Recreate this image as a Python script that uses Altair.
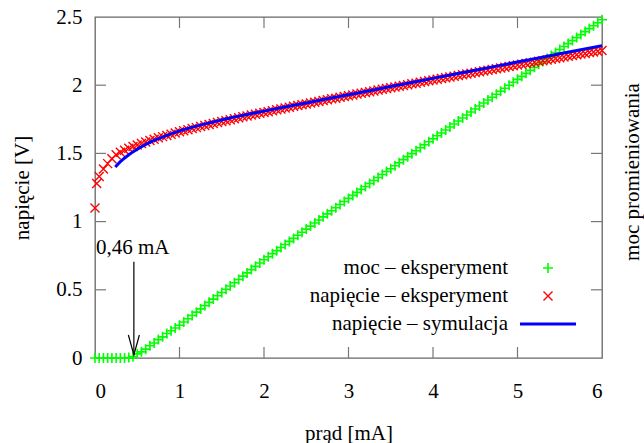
import altair as alt
import pandas as pd

# ---------------- data ----------------
current = [0.0, 0.05, 0.1, 0.15, 0.2, 0.25, 0.3, 0.35, 0.4, 0.45,
           0.5, 0.55, 0.6, 0.65, 0.7, 0.75, 0.8, 0.85, 0.9, 0.95,
           1.0, 1.05, 1.1, 1.15, 1.2, 1.25, 1.3, 1.35, 1.4, 1.45,
           1.5, 1.55, 1.6, 1.65, 1.7, 1.75, 1.8, 1.85, 1.9, 1.95,
           2.0, 2.05, 2.1, 2.15, 2.2, 2.25, 2.3, 2.35, 2.4, 2.45,
           2.5, 2.55, 2.6, 2.65, 2.7, 2.75, 2.8, 2.85, 2.9, 2.95,
           3.0, 3.05, 3.1, 3.15, 3.2, 3.25, 3.3, 3.35, 3.4, 3.45,
           3.5, 3.55, 3.6, 3.65, 3.7, 3.75, 3.8, 3.85, 3.9, 3.95,
           4.0, 4.05, 4.1, 4.15, 4.2, 4.25, 4.3, 4.35, 4.4, 4.45,
           4.5, 4.55, 4.6, 4.65, 4.7, 4.75, 4.8, 4.85, 4.9, 4.95,
           5.0, 5.05, 5.1, 5.15, 5.2, 5.25, 5.3, 5.35, 5.4, 5.45,
           5.5, 5.55, 5.6, 5.65, 5.7, 5.75, 5.8, 5.85, 5.9, 5.95,
           6.0]

moc_eksperyment = [0.0, 0.0, 0.0, 0.0, 0.0, 0.0, 0.0, 0.0, 0.003, 0.01,
                   0.03, 0.045, 0.065, 0.09, 0.11, 0.135, 0.155, 0.18, 0.2, 0.22,
                   0.24, 0.264, 0.288, 0.312, 0.336, 0.36, 0.384, 0.408, 0.432, 0.456,
                   0.48, 0.504, 0.528, 0.552, 0.576, 0.6, 0.624, 0.648, 0.672, 0.696,
                   0.72, 0.742, 0.765, 0.787, 0.81, 0.832, 0.855, 0.877, 0.9, 0.922,
                   0.945, 0.967, 0.99, 1.012, 1.035, 1.057, 1.08, 1.102, 1.125, 1.147,
                   1.17, 1.192, 1.214, 1.236, 1.257, 1.279, 1.301, 1.323, 1.345, 1.367,
                   1.388, 1.41, 1.432, 1.454, 1.476, 1.498, 1.519, 1.541, 1.563, 1.585,
                   1.607, 1.629, 1.65, 1.672, 1.694, 1.716, 1.738, 1.76, 1.781, 1.803,
                   1.825, 1.847, 1.869, 1.891, 1.912, 1.934, 1.956, 1.978, 2.0, 2.022,
                   2.043, 2.065, 2.087, 2.109, 2.131, 2.153, 2.174, 2.196, 2.218, 2.24,
                   2.262, 2.284, 2.305, 2.327, 2.349, 2.371, 2.393, 2.415, 2.436, 2.458,
                   2.48]

current_napiecie = [0.0, 0.02] + current[1:]
napiecie_eksperyment = [1.10, 1.28,
                        1.33, 1.385, 1.425, 1.46, 1.49, 1.508, 1.523, 1.537, 1.55, 1.562,
                        1.573, 1.584, 1.595, 1.604, 1.614, 1.623, 1.632, 1.641, 1.649, 1.658,
                        1.666, 1.674, 1.682, 1.689, 1.697, 1.704, 1.712, 1.719, 1.726, 1.733,
                        1.74, 1.747, 1.754, 1.761, 1.768, 1.774, 1.781, 1.787, 1.794, 1.8,
                        1.806, 1.813, 1.82, 1.826, 1.832, 1.839, 1.845, 1.851, 1.857, 1.863,
                        1.869, 1.875, 1.881, 1.888, 1.894, 1.9, 1.905, 1.911, 1.917, 1.923,
                        1.929, 1.935, 1.941, 1.947, 1.952, 1.958, 1.964, 1.97, 1.975, 1.981,
                        1.987, 1.993, 1.998, 2.004, 2.01, 2.015, 2.021, 2.027, 2.032, 2.038,
                        2.043, 2.049, 2.055, 2.06, 2.066, 2.071, 2.077, 2.082, 2.088, 2.093,
                        2.099, 2.104, 2.11, 2.115, 2.121, 2.126, 2.132, 2.137, 2.143, 2.148,
                        2.153, 2.159, 2.164, 2.169, 2.175, 2.18, 2.185, 2.191, 2.196, 2.201,
                        2.207, 2.212, 2.217, 2.223, 2.228, 2.233, 2.239, 2.244, 2.249, 2.255]

current_symulacja = [0.24, 0.3, 0.4, 0.5, 0.6, 0.7, 0.8, 1.0, 1.2, 1.4, 1.6, 1.8,
                     2.0, 2.5, 3.0, 3.5, 4.0, 4.5, 5.0, 5.5, 6.0]
napiecie_symulacja = [1.40, 1.44, 1.49, 1.53, 1.565, 1.595, 1.62, 1.665, 1.70, 1.73,
                      1.76, 1.785, 1.81, 1.87, 1.93, 1.99, 2.05, 2.11, 2.17, 2.23, 2.29]

series_names = ["moc – eksperyment", "napięcie – eksperyment", "napięcie – symulacja"]
x_tick_labels = [0, 1, 2, 3, 4, 5, 6]
y_tick_labels = [0, 0.5, 1, 1.5, 2, 2.5]
x_inner_ticks = [1, 2, 3, 4, 5]
y_inner_ticks = [0.5, 1, 1.5, 2]
annotation_text = ["0,46 mA"]
annotation_current = [0.46]

# ---------------- styling ----------------
W, H = 507, 341
FONT = "Liberation Serif, Times New Roman, Times, serif"
FS = 21
GREEN, RED, BLUE = "#00ff00", "#ff0000", "#0000ff"
PLUS = "M-1,0L1,0M0,-1L0,1"
CROSS = "M-1,-1L1,1M-1,1L1,-1"
ARROWHEAD = "M-0.55,-2L0,0L0.55,-2"

xs = alt.Scale(domain=[0, 6], nice=False, zero=False)
ys = alt.Scale(domain=[0, 2.5], nice=False, zero=False)

x_axis = alt.Axis(values=x_tick_labels, title="prąd [mA]", ticks=False, domain=False,
                  grid=False, labelPadding=22, labelFont=FONT, labelFontSize=FS,
                  labelColor="black", titleFont=FONT, titleFontSize=FS, titleFontWeight="normal",
                  titleColor="black", titleX=W / 2, titleY=75, titleBaseline="middle",
                  titleAlign="center")
y_axis = alt.Axis(values=y_tick_labels, format="~g", title="napięcie [V]", ticks=False,
                  domain=False, grid=False, labelPadding=13, labelFont=FONT, labelFontSize=FS,
                  labelColor="black", labelBaseline="middle", titleFont=FONT, titleFontSize=FS,
                  titleFontWeight="normal", titleColor="black", titleX=-73, titleY=H / 2,
                  titleAngle=270, titleBaseline="middle", titleAlign="center")


def X(field):
    return alt.X(field, scale=xs, axis=x_axis)


def Y(field):
    return alt.Y(field, scale=ys, axis=y_axis)


green_df = pd.DataFrame({"I": current, "V": moc_eksperyment})
red_df = pd.DataFrame({"I": current_napiecie, "V": napiecie_eksperyment})
blue_df = pd.DataFrame({"I": current_symulacja, "V": napiecie_symulacja})

green = alt.Chart(green_df).mark_point(shape=PLUS, size=100, filled=False, color=GREEN,
                                       strokeWidth=1.6, opacity=1).encode(
    x=X("I:Q"), y=Y("V:Q"))

red = alt.Chart(red_df).mark_point(shape=CROSS, size=81, filled=False, color=RED,
                                   strokeWidth=1.4, opacity=1).encode(
    x=X("I:Q"), y=Y("V:Q"))

blue = alt.Chart(blue_df).mark_line(color=BLUE, strokeWidth=3, interpolate="monotone").encode(
    x=X("I:Q"), y=Y("V:Q"))

# inward ticks on all four sides (gnuplot style)
xt_df = pd.DataFrame({"t": x_inner_ticks})
yt_df = pd.DataFrame({"t": y_inner_ticks})
TICK = dict(color="#777777", strokeWidth=1.2)
ticks_bottom = alt.Chart(xt_df).mark_rule(**TICK).encode(
    x=X("t:Q"), y=alt.value(H), y2=alt.value(H - 11))
ticks_top = alt.Chart(xt_df).mark_rule(**TICK).encode(
    x=X("t:Q"), y=alt.value(0), y2=alt.value(11))
ticks_left = alt.Chart(yt_df).mark_rule(**TICK).encode(
    y=Y("t:Q"), x=alt.value(0), x2=alt.value(11))
ticks_right = alt.Chart(yt_df).mark_rule(**TICK).encode(
    y=Y("t:Q"), x=alt.value(W - 11), x2=alt.value(W))

# annotation: "0,46 mA" with arrow
ann_df = pd.DataFrame({"I": [0.0], "V": [0.806], "label": annotation_text})
ann_text = alt.Chart(ann_df).mark_text(align="left", baseline="middle", font=FONT,
                                       fontSize=FS, color="black", dx=1).encode(
    x=X("I:Q"), y=Y("V:Q"), text="label:N")
arrow_df = pd.DataFrame({"I": annotation_current, "top": [0.706], "tip": [0.022]})
arrow_shaft = alt.Chart(arrow_df).mark_rule(color="black", strokeWidth=1.2).encode(
    x=X("I:Q"), y=Y("top:Q"), y2="tip:Q")
arrow_head = alt.Chart(arrow_df).mark_point(shape=ARROWHEAD, size=400, filled=False,
                                            color="black", strokeWidth=1.2, opacity=1).encode(
    x=X("I:Q"), y=Y("tip:Q"))

# legend (gnuplot style: text right-aligned, sample to the right)
ROWS = [251, 279, 307]
TEXT_X, SYM_X = 413, 453
legend_layers = []
for name, ry in zip(series_names, ROWS):
    legend_layers.append(
        alt.Chart(pd.DataFrame({"label": [name]})).mark_text(
            align="right", baseline="middle", font=FONT, fontSize=FS, color="black").encode(
            x=alt.value(TEXT_X), y=alt.value(ry), text="label:N"))
legend_layers.append(
    alt.Chart(pd.DataFrame({"label": [series_names[0]]})).mark_point(
        shape=PLUS, size=100, filled=False, color=GREEN, strokeWidth=1.6, opacity=1).encode(
        x=alt.value(SYM_X), y=alt.value(ROWS[0])))
legend_layers.append(
    alt.Chart(pd.DataFrame({"label": [series_names[1]]})).mark_point(
        shape=CROSS, size=81, filled=False, color=RED, strokeWidth=1.4, opacity=1).encode(
        x=alt.value(SYM_X), y=alt.value(ROWS[1])))
legend_layers.append(
    alt.Chart(pd.DataFrame({"label": [series_names[2]]})).mark_rule(
        color=BLUE, strokeWidth=3).encode(
        x=alt.value(425), x2=alt.value(481), y=alt.value(ROWS[2])))

# right-hand axis title
right_title = alt.Chart(pd.DataFrame({"t": ["moc promieniowania"]})).mark_text(
    angle=270, align="center", baseline="middle", font=FONT, fontSize=FS, color="black").encode(
    x=alt.value(538), y=alt.value(155), text="t:N")

chart = alt.layer(
    green, red, blue,
    ticks_bottom, ticks_top, ticks_left, ticks_right,
    ann_text, arrow_shaft, arrow_head,
    *legend_layers, right_title
).properties(
    width=W, height=H,
    autosize=alt.AutoSizeParams(type="none"),
    padding={"left": 95, "top": 17, "right": 42, "bottom": 85},
    background="white",
).configure_view(stroke="#666666", strokeWidth=1.3)

chart.save("out.html", embed_options={"renderer": "svg", "actions": False})
